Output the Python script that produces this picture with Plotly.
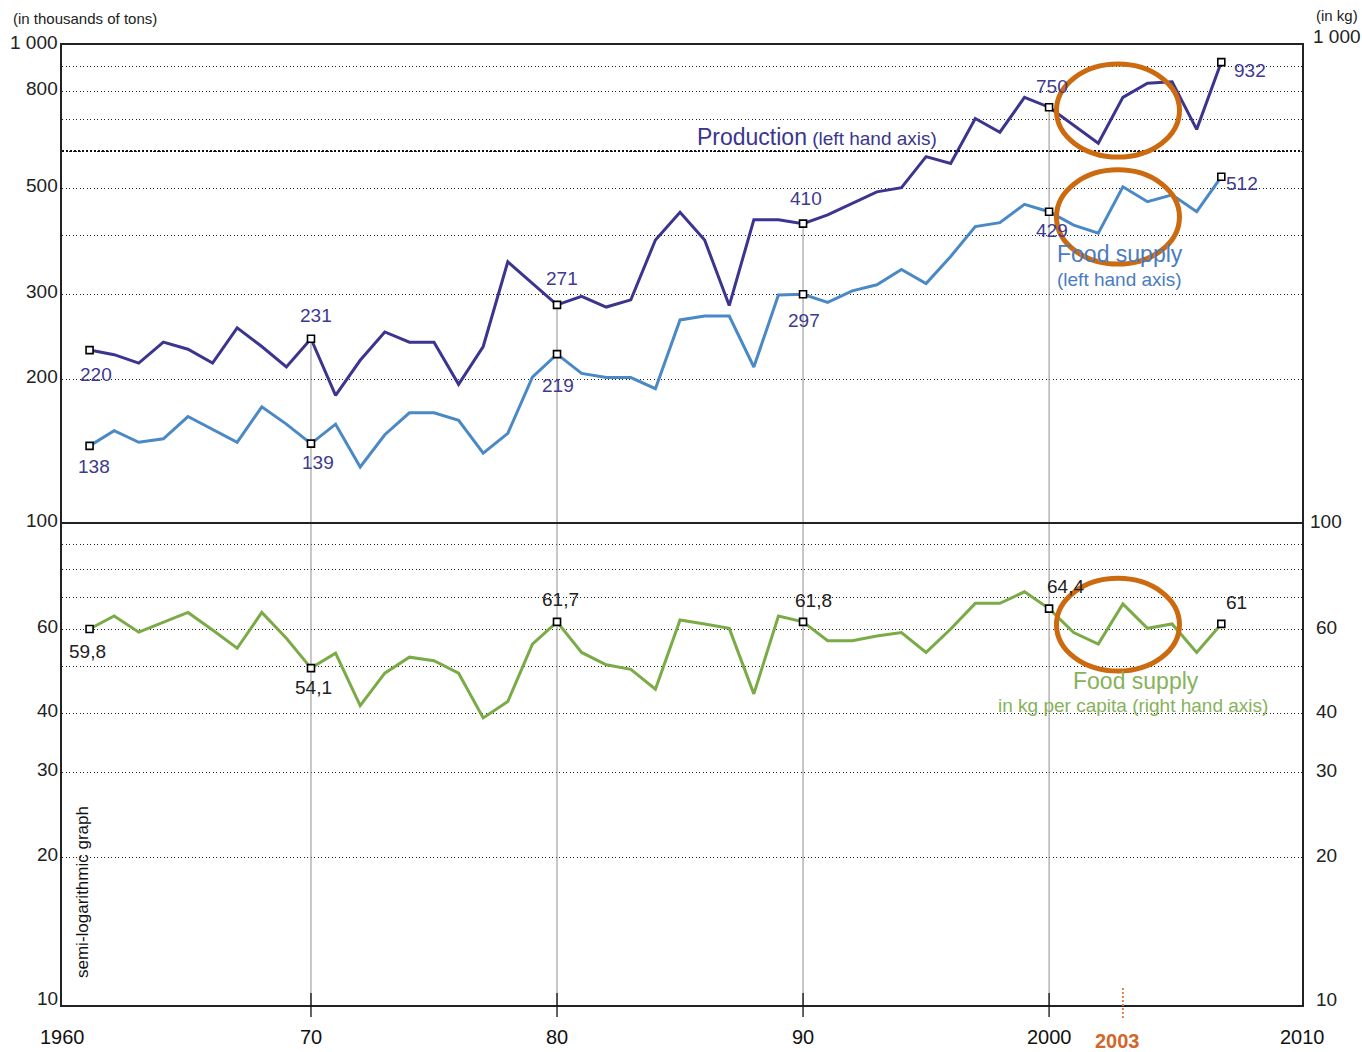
import numpy as np
import plotly.graph_objects as go

# ---------------- data ----------------
years = list(range(1961, 2008))

production = [230, 225, 216, 239, 231, 216, 256, 234, 212, 243,
              185, 219, 251, 239, 239, 195, 234, 352, 317, 286,
              298, 283, 293, 391, 447, 391, 285, 431, 431, 423,
              441, 467, 493, 503, 584, 565, 702, 657, 777, 741,
              680, 623, 777, 832, 838, 666, 921]

food_supply = [145, 156, 147.5, 150, 167, 157, 147.5, 175, 161, 146.6,
               161, 131, 153, 170, 170, 164, 140, 154, 202, 225.6,
               205.6, 201.5, 201.5, 191, 266, 271, 271, 212, 300, 301,
               289.5, 306, 315, 339, 317, 361, 417, 425, 464, 448,
               420, 404, 505, 470, 486, 448, 530]

food_per_capita = [60.0, 63.9, 59.1, 62.0, 65.0, 59.7, 54.7, 65.0, 57.4, 49.7,
                   53.4, 41.5, 48.5, 52.4, 51.5, 48.5, 39.1, 42.3, 55.8, 62.1,
                   53.6, 50.5, 49.4, 44.9, 62.7, 61.5, 60.2, 43.9, 63.9, 62.1,
                   56.7, 56.7, 58.0, 59.0, 53.6, 60.0, 67.9, 67.9, 71.8, 66.2,
                   59.0, 55.8, 67.7, 60.2, 61.5, 53.6, 61.5]

label_years = [1961, 1970, 1980, 1990, 2000, 2007]
production_labels = ["220", "231", "271", "410", "750", "932"]
food_labels = ["138", "139", "219", "297", "429", "512"]
capita_labels = ["59,8", "54,1", "61,7", "61,8", "64,4", "61"]

left_ticks = [1000, 800, 500, 300, 200, 100, 60, 40, 30, 20, 10]
left_tick_text = ["1 000", "800", "500", "300", "200", "100", "60", "40", "30", "20", "10"]
right_ticks = [100, 60, 40, 30, 20, 10]
right_tick_text = ["100", "60", "40", "30", "20", "10"]
x_ticks = [1960, 1970, 1980, 1990, 2000, 2010]
x_tick_text = ["1960", "70", "80", "90", "2000", "2010"]
grid_values = [20, 30, 40, 50, 60, 70, 80, 90, 200, 300, 400, 500, 600, 700, 800, 900]
vline_years = [1970, 1980, 1990, 2000]
highlight_years = [2000.3, 2005.3]          # span of the highlighted period
highlight_prod = [583, 912]                 # ellipse extents (thousands of tons)
highlight_food = [348, 548]
highlight_capita = [49.0, 76.6]             # ellipse extents (kg)

# ---------------- styles ----------------
FONT = "Liberation Sans, Arial, Helvetica, sans-serif"
C_PROD = "#3b358f"
C_FOOD = "#4a89c6"
C_CAP = "#7aab47"
C_LBL = "#3d3a8f"
C_ORANGE = "#cc6a10"
W, H = 1362, 1052
ML, MR, MT, MB = 62, 60, 45, 47
XR = [1959.88, 2010.28]
YR = [0.99163, 3.0]


def px_x(px):
    return (px - ML) / (W - ML - MR)


def px_y(py):
    return (H - MB - py) / (H - MT - MB)


fig = go.Figure()

for yr in vline_years:
    v = production[years.index(yr)]
    fig.add_trace(go.Scatter(x=[yr, yr], y=[v, 5], mode="lines",
                             line=dict(color="#8f8f8f", width=1),
                             hoverinfo="skip", showlegend=False))

fig.add_trace(go.Scatter(x=years, y=production, mode="lines",
                         line=dict(color=C_PROD, width=3), showlegend=False))
fig.add_trace(go.Scatter(x=years, y=food_supply, mode="lines",
                         line=dict(color=C_FOOD, width=3), showlegend=False))
fig.add_trace(go.Scatter(x=years, y=food_per_capita, mode="lines",
                         line=dict(color=C_CAP, width=3), showlegend=False))

mk = dict(symbol="square", size=7, color="white", line=dict(color="black", width=1.6))
for series in (production, food_supply, food_per_capita):
    fig.add_trace(go.Scatter(x=label_years,
                             y=[series[years.index(y)] for y in label_years],
                             mode="markers", marker=mk, showlegend=False,
                             cliponaxis=False))

ann = []
prod_off = [(6, 24), (5, -23), (5, -26), (3, -25), (3, -21), (29, 8)]
food_off = [(4, 21), (7, 19), (1, 31), (1, 26), (3, 19), (21, 7)]
cap_off = [(-2, 22), (3, 19), (3, -22), (10, -21), (16, -22), (15, -21)]
for series, texts, offs, col in ((production, production_labels, prod_off, C_LBL),
                                 (food_supply, food_labels, food_off, C_LBL),
                                 (food_per_capita, capita_labels, cap_off, "#222")):
    for yr, t, (dx, dy) in zip(label_years, texts, offs):
        ann.append(dict(x=yr, y=np.log10(series[years.index(yr)]), xref="x", yref="y",
                        text=t, showarrow=False, xshift=dx, yshift=-dy,
                        xanchor="center", yanchor="middle",
                        font=dict(family=FONT, size=19, color=col)))

for v, t in zip(left_ticks, left_tick_text):
    ann.append(dict(x=0, y=np.log10(v), xref="paper", yref="y", text=t,
                    showarrow=False, xanchor="right", yanchor="middle", xshift=-2, yshift=3,
                    font=dict(family=FONT, size=19, color="#222")))
for v, t in zip(right_ticks, right_tick_text):
    ann.append(dict(x=1, y=np.log10(v), xref="paper", yref="y", text=t,
                    showarrow=False, xanchor="center", yanchor="middle", xshift=24, yshift=2,
                    font=dict(family=FONT, size=19, color="#222")))
ann.append(dict(x=1, y=1, xref="paper", yref="paper", text="1 000", showarrow=False,
                xanchor="center", yanchor="middle", xshift=35, yshift=9,
                font=dict(family=FONT, size=19, color="#222")))
ann.append(dict(x=1, y=1, xref="paper", yref="paper", text="(in kg)", showarrow=False,
                xanchor="center", yanchor="middle", xshift=35, yshift=30,
                font=dict(family=FONT, size=15, color="#222")))
ann.append(dict(x=0, y=1, xref="paper", yref="paper", text="(in thousands of tons)",
                showarrow=False, xanchor="left", yanchor="middle", xshift=-51, yshift=27,
                font=dict(family=FONT, size=15, color="#222")))

for v, t in zip(x_ticks, x_tick_text):
    if v <= 1960:
        xv, xr = 0, "paper"
    elif v >= 2010:
        xv, xr = 1, "paper"
    else:
        xv, xr = v, "x"
    ann.append(dict(x=xv, y=0, xref=xr, yref="paper", text=t, showarrow=False,
                    xanchor="center", yanchor="middle",
                    yshift=-32, font=dict(family=FONT, size=20, color="#111")))
ann.append(dict(x=2003, y=0, xref="x", yref="paper", text="<b>2003</b>", showarrow=False,
                xanchor="center", yanchor="middle",
                xshift=-5, yshift=-36, font=dict(family=FONT, size=20, color="#d2672a")))


def txt(px, py, text, size, color, anchor="center"):
    ann.append(dict(x=px_x(px), y=px_y(py), xref="paper", yref="paper", showarrow=False,
                    xanchor=anchor, yanchor="middle", text=text,
                    font=dict(family=FONT, size=size, color=color)))


txt(817, 137, "<span style='font-size:23px'>Production</span> (left hand axis)", 19, C_PROD)
txt(1055, 254, "Food supply", 23, "#4a7cc0", "left")
txt(1055, 279, "(left hand axis)", 19, "#4a7cc0", "left")
txt(1136, 681, "Food supply", 23, "#86b25a")
txt(1133, 705, "in kg per capita (right hand axis)", 19, "#86b25a")
ann.append(dict(x=px_x(82), y=px_y(892), xref="paper", yref="paper", showarrow=False,
                xanchor="center", yanchor="middle",
                text="semi-logarithmic graph", textangle=-90,
                font=dict(family=FONT, size=17, color="#111")))

shapes = []
shapes.append(dict(type="line", xref="paper", yref="y", x0=0, x1=1, y0=100, y1=100,
                   line=dict(color="#222", width=2)))
shapes.append(dict(type="line", xref="paper", yref="y", x0=0, x1=1, y0=600, y1=600,
                   line=dict(color="#111", width=2, dash="2px,2px")))
for yr in vline_years:
    shapes.append(dict(type="line", xref="x", yref="paper", x0=yr, x1=yr,
                       y0=0.0125, y1=-0.0125, line=dict(color="#111", width=1.3)))
shapes.append(dict(type="line", xref="x", yref="paper", x0=2003, x1=2003,
                   y0=0.0177, y1=-0.0135, line=dict(color="#e0804a", width=2, dash="2px,2px")))
for lo, hi in (highlight_prod, highlight_food, highlight_capita):
    shapes.append(dict(type="circle", xref="x", yref="y",
                       x0=highlight_years[0], x1=highlight_years[1], y0=lo, y1=hi,
                       line=dict(color=C_ORANGE, width=5), layer="above"))

fig.update_layout(
    width=W, height=H,
    margin=dict(l=ML, r=MR, t=MT, b=MB),
    paper_bgcolor="white", plot_bgcolor="white",
    showlegend=False,
    annotations=ann, shapes=shapes,
    xaxis=dict(range=XR, showgrid=False, zeroline=False, showticklabels=False,
               ticks="", showline=True, mirror=True, linecolor="#222", linewidth=2),
    yaxis=dict(type="log", range=YR, tickvals=grid_values, showticklabels=False,
               ticks="", showgrid=True, gridcolor="#222", gridwidth=1.3,
               griddash="1.3px,2.2px", zeroline=False,
               showline=True, mirror=True, linecolor="#222", linewidth=2),
    font=dict(family=FONT),
)

fig.write_html("out.html", config={"displayModeBar": False},
               post_script="document.body.style.margin='0px';")
